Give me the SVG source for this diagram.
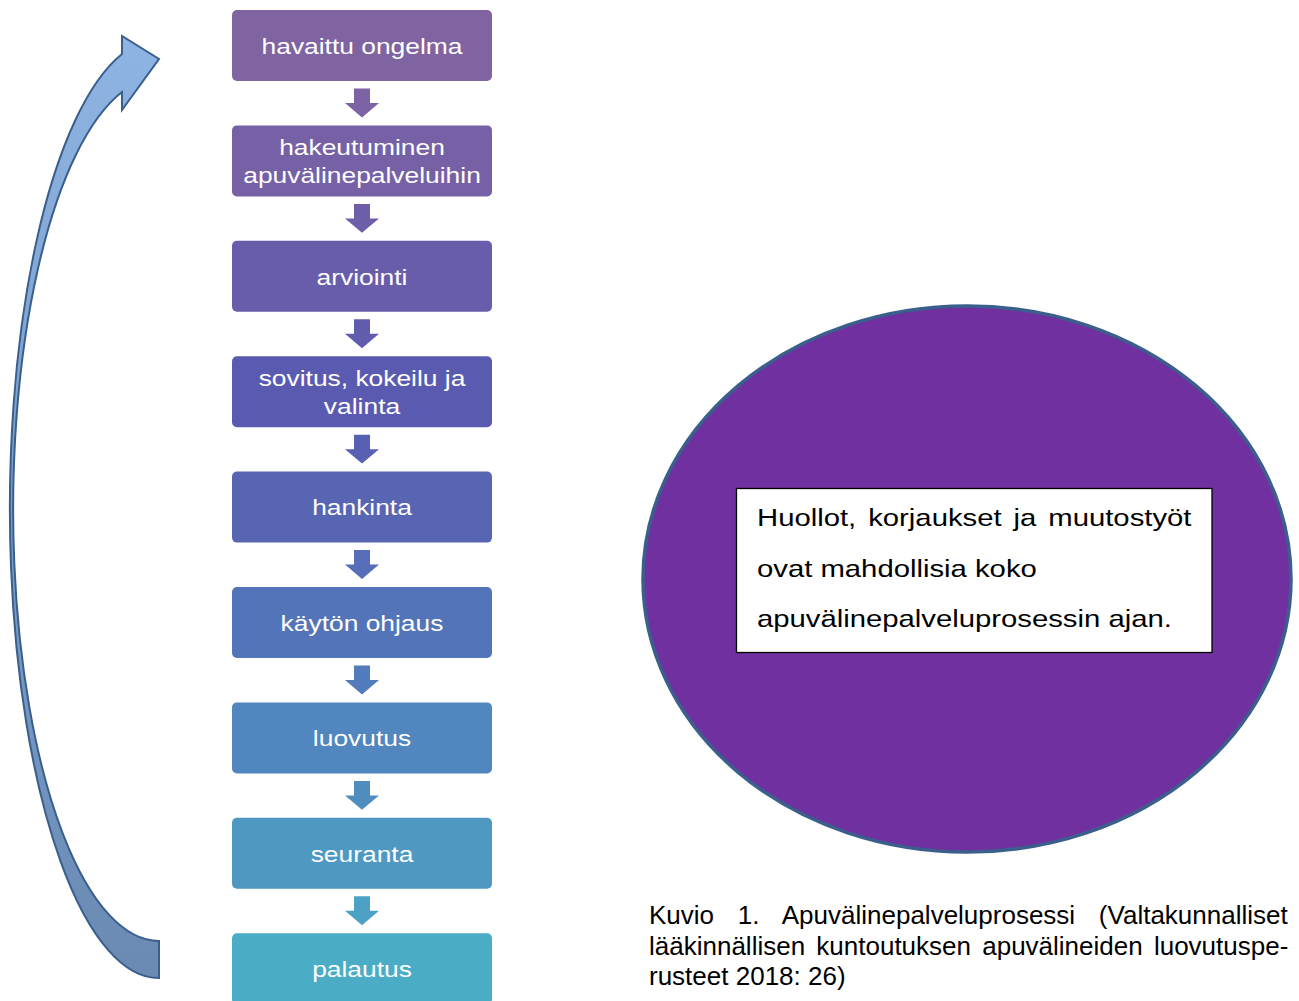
<svg xmlns="http://www.w3.org/2000/svg" xmlns:xlink="http://www.w3.org/1999/xlink" width="1299" height="1001" viewBox="0 0 1299 1001">
  <style>
    .box { stroke: none; }
    .lbl { font-family: "Liberation Sans", Arial, sans-serif; font-size: 22px; fill: #ffffff; text-anchor: middle; }
    .note { font-family: "Liberation Sans", Arial, sans-serif; font-size: 24.4px; fill: #000000; }
    .cap { font-family: "Liberation Sans", Arial, sans-serif; font-size: 26px; fill: #000000; }
  </style>
  <defs>
    <path id="dn" d="M354 88.5 H370 V103 H379 L362 117.4 L345 103 H354 Z"/>
    <linearGradient id="cg" gradientUnits="userSpaceOnUse" x1="0" y1="36" x2="0" y2="978">
      <stop offset="0" stop-color="#8EB4E3"/>
      <stop offset="1" stop-color="#6A8AB3"/>
    </linearGradient>
  </defs>
  <rect width="1299" height="1001" fill="#ffffff"/>

  <g id="connectors">
    <path id="loop-arrow" d="M159 978 A149 469.3 0 0 1 122 54 L122 36 L159 59 L122 110 L122 92 A146 431.6 0 0 0 159 941 Z" fill="url(#cg)" stroke="#3A5F8D" stroke-width="2" stroke-linejoin="miter"/>
    <use xlink:href="#dn" href="#dn" fill="#7B63A5"/>
    <use xlink:href="#dn" href="#dn" fill="#6F5FA9" transform="translate(0,115.4)"/>
    <use xlink:href="#dn" href="#dn" fill="#615CAE" transform="translate(0,230.8)"/>
    <use xlink:href="#dn" href="#dn" fill="#5860B3" transform="translate(0,346.2)"/>
    <use xlink:href="#dn" href="#dn" fill="#566DB7" transform="translate(0,461.6)"/>
    <use xlink:href="#dn" href="#dn" fill="#527CBB" transform="translate(0,577)"/>
    <use xlink:href="#dn" href="#dn" fill="#508DBF" transform="translate(0,692.4)"/>
    <use xlink:href="#dn" href="#dn" fill="#4DA1C4" transform="translate(0,807.8)"/>
  </g>

  <g id="n1">
    <rect class="box" x="232" y="10" width="260" height="71" rx="5" fill="#8064A2"/>
    <text class="lbl" transform="matrix(1.2 0 0 1 362 53.8)">havaittu ongelma</text>
  </g>
  <g id="n2">
    <rect class="box" x="232" y="125.4" width="260" height="71" rx="5" fill="#7661A7"/>
    <text class="lbl" transform="matrix(1.2 0 0 1 362 155.4)">hakeutuminen</text>
    <text class="lbl" transform="matrix(1.2 0 0 1 362 182.9)">apuvälinepalveluihin</text>
  </g>
  <g id="n3">
    <rect class="box" x="232" y="240.8" width="260" height="71" rx="5" fill="#685DAB"/>
    <text class="lbl" transform="matrix(1.2 0 0 1 362 284.6)">arviointi</text>
  </g>
  <g id="n4">
    <rect class="box" x="232" y="356.2" width="260" height="71" rx="5" fill="#5A5BB0"/>
    <text class="lbl" transform="matrix(1.2 0 0 1 362 386.2)">sovitus, kokeilu ja</text>
    <text class="lbl" transform="matrix(1.2 0 0 1 362 413.7)">valinta</text>
  </g>
  <g id="n5">
    <rect class="box" x="232" y="471.6" width="260" height="71" rx="5" fill="#5865B2"/>
    <text class="lbl" transform="matrix(1.2 0 0 1 362 515.4)">hankinta</text>
  </g>
  <g id="n6">
    <rect class="box" x="232" y="587" width="260" height="71" rx="5" fill="#5474B9"/>
    <text class="lbl" transform="matrix(1.2 0 0 1 362 630.8)">käytön ohjaus</text>
  </g>
  <g id="n7">
    <rect class="box" x="232" y="702.4" width="260" height="71" rx="5" fill="#5186BE"/>
    <text class="lbl" transform="matrix(1.2 0 0 1 362 746.2)">luovutus</text>
  </g>
  <g id="n8">
    <rect class="box" x="232" y="817.8" width="260" height="71" rx="5" fill="#4E98C2"/>
    <text class="lbl" transform="matrix(1.2 0 0 1 362 861.6)">seuranta</text>
  </g>
  <g id="n9">
    <rect class="box" x="232" y="933.2" width="260" height="71" rx="5" fill="#4BACC6"/>
    <text class="lbl" transform="matrix(1.2 0 0 1 362 977)">palautus</text>
  </g>

  <g id="circle">
    <ellipse cx="967" cy="579" rx="324" ry="273" fill="#7030A0" stroke="#3B5F8C" stroke-width="3.5"/>
    <rect x="736.5" y="488.5" width="475.5" height="164" fill="#ffffff" stroke="#000000" stroke-width="1.3"/>
    <text class="note" transform="matrix(1.2 0 0 1 757 525.7)" word-spacing="3.2">Huollot, korjaukset ja muutostyöt</text>
    <text class="note" transform="matrix(1.2 0 0 1 757 576.5)">ovat mahdollisia koko</text>
    <text class="note" transform="matrix(1.2 0 0 1 757 627)">apuvälinepalveluprosessin ajan.</text>
  </g>

  <g id="caption">
    <text class="cap" x="649" y="923.5" word-spacing="16.5">Kuvio 1. Apuvälinepalveluprosessi (Valtakunnalliset</text>
    <text class="cap" x="649" y="954.5" word-spacing="4">lääkinnällisen kuntoutuksen apuvälineiden luovutuspe-</text>
    <text class="cap" x="649" y="985">rusteet 2018: 26)</text>
  </g>
</svg>
